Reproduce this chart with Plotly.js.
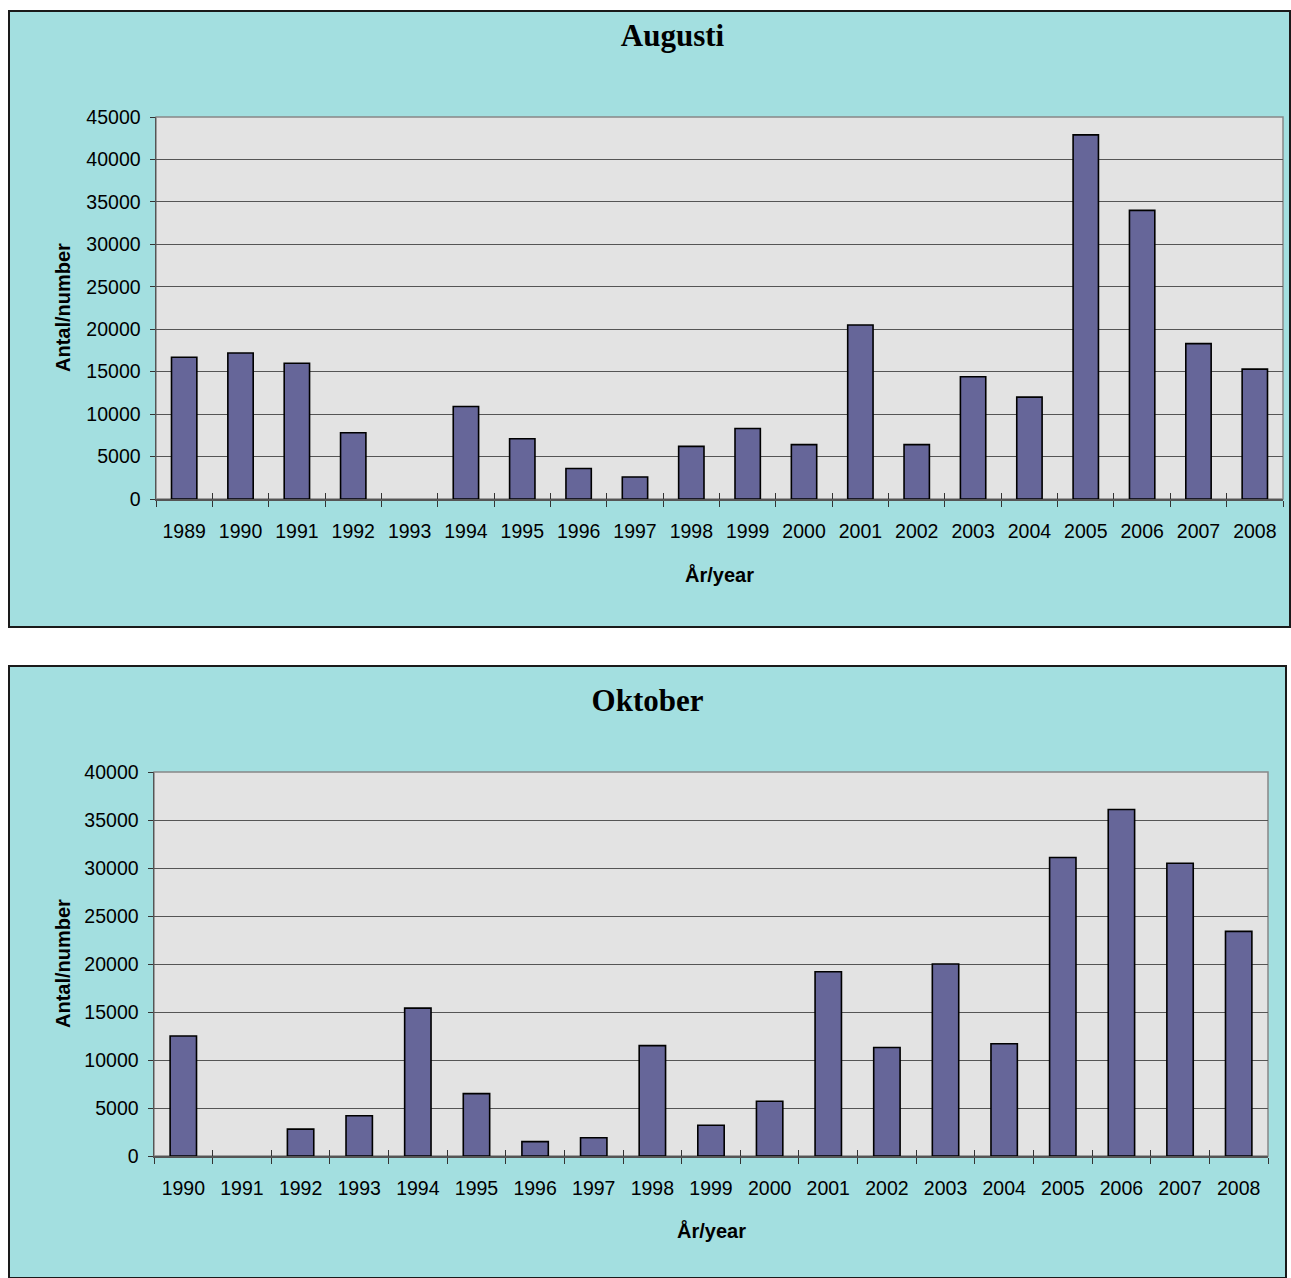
<!DOCTYPE html>
<html><head><meta charset="utf-8">
<script src="https://cdn.plot.ly/plotly-3.0.1.min.js"></script>
<style>
body{margin:0;background:#fff;width:1291px;height:1278px;overflow:hidden;position:relative}
.box{position:absolute;border:2px solid #1a1a1a;background:#a3dfe0}
#b1{left:8px;top:10px;width:1279px;height:614px}
#b2{left:8px;top:665px;width:1275px;height:610px}
</style></head><body>
<div id="b1" class="box"><div id="c1"></div></div>
<div id="b2" class="box"><div id="c2"></div></div>
<script>
// Augusti
const augYears = ['1989','1990','1991','1992','1993','1994','1995','1996','1997','1998','1999','2000','2001','2002','2003','2004','2005','2006','2007','2008'];
const augValues = [16700,17200,16000,7800,0,10900,7100,3600,2600,6200,8300,6400,20500,6400,14400,12000,42900,34000,18300,15300];
// Oktober
const oktYears = ['1990','1991','1992','1993','1994','1995','1996','1997','1998','1999','2000','2001','2002','2003','2004','2005','2006','2007','2008'];
const oktValues = [12500,0,2800,4200,15400,6500,1500,1900,11500,3200,5700,19200,11300,20000,11700,31100,36100,30500,23400];

const BG = '#a3dfe0';
const SANS = 'Liberation Sans, Arial, sans-serif';
const SERIF = 'Liberation Serif, Times New Roman, serif';

function draw(id, cats, vals, title, ymax, w, h, m, titleX, titleY, yTitleShift, xTitleShift) {
  const n = cats.length;
  const traces = [
    {type:'bar', x:cats, y:vals, width:0.45,
     marker:{color:'#666699', line:{color:'#000', width:vals.map(v => v > 0 ? 1.6 : 0)}}, hoverinfo:'x+y'},
    {type:'scatter', mode:'markers', x:cats, y:vals, xaxis:'x2', yaxis:'y',
     marker:{opacity:0}, hoverinfo:'skip', showlegend:false}
  ];
  const layout = {
    width:w, height:h, margin:m,
    paper_bgcolor:BG, plot_bgcolor:'#e3e3e3',
    showlegend:false,
    title:{text:'<b>'+title+'</b>', font:{family:SERIF, size:31, color:'#000'},
           xref:'container', yref:'container', x:titleX, y:titleY, xanchor:'center', yanchor:'middle'},
    xaxis:{type:'category', categoryarray:cats, range:[-0.5, n-0.5],
           ticks:'outside', tickson:'boundaries', ticklen:6, tickwidth:1, tickcolor:'#333',
           showline:true, linecolor:'#555', linewidth:1.5, showgrid:false, zeroline:false,
           tickfont:{family:SANS, size:19.5, color:'#000'}, ticklabelstandoff:14},
    xaxis2:{type:'category', categoryarray:cats, range:[-0.5, n-0.5], overlaying:'x', anchor:'y', side:'bottom',
           ticks:'inside', tickson:'boundaries', ticklen:6, tickwidth:1, tickcolor:'#333',
           showticklabels:false, showline:false, showgrid:false, zeroline:false},
    yaxis:{range:[0,ymax], dtick:5000, tick0:0, tickformat:'d',
           ticks:'outside', ticklen:5, tickwidth:1, tickcolor:'#333',
           showline:true, linecolor:'#555', linewidth:1.5,
           showgrid:true, gridcolor:'#555', gridwidth:1, zeroline:false,
           tickfont:{family:SANS, size:19.5, color:'#000'}, ticklabelstandoff:5},
    shapes:[{type:'rect', xref:'paper', yref:'paper', x0:0, x1:1, y0:0, y1:1,
             line:{color:'#888', width:1.5}, layer:'below'}],
    annotations:[
      {text:'<b>Antal/number</b>', xref:'paper', yref:'paper', x:0, y:0.5, xshift:yTitleShift,
       textangle:-90, showarrow:false, xanchor:'center', yanchor:'middle',
       font:{family:SANS, size:20, color:'#000'}},
      {text:'<b>År/year</b>', xref:'paper', yref:'paper', x:0.5, y:0, yshift:xTitleShift,
       showarrow:false, xanchor:'center', yanchor:'middle',
       font:{family:SANS, size:20, color:'#000'}}
    ]
  };
  Plotly.newPlot(id, traces, layout, {displayModeBar:false, staticPlot:true});
}

draw('c1', augYears, augValues, 'Augusti', 45000, 1279, 614,
     {l:146, r:6, t:105, b:127, pad:0}, 0.518, 1-23/614, -93, -75);
draw('c2', oktYears, oktValues, 'Oktober', 40000, 1275, 610,
     {l:144, r:17, t:105, b:121, pad:0}, 0.5, 1-33/610, -91, -74);
</script>
</body></html>
